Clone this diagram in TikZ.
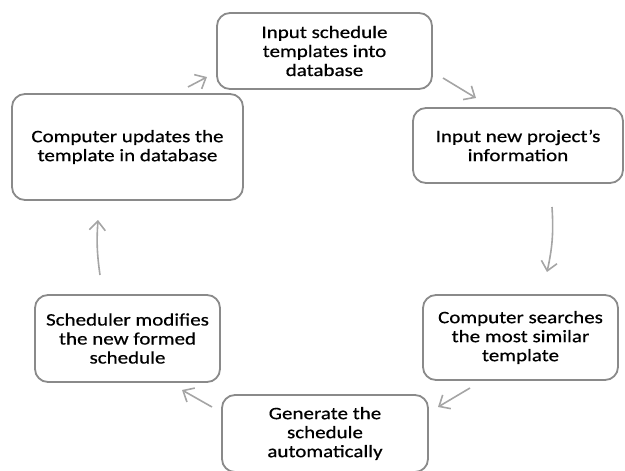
\documentclass[tikz,border=0pt]{standalone}
\usepackage{fontspec}
\setmainfont[FakeStretch=1.2, FakeBold=0.6]{Carlito}
\usepackage{xcolor}
\usetikzlibrary{arrows.meta}
\definecolor{boxgray}{RGB}{138,138,138}
\definecolor{arrowgray}{RGB}{165,165,165}
\tikzset{
    stepbox/.style={draw=boxgray, line width=1.8pt, rounded corners=13pt, align=center, inner sep=0pt, font=\fontsize{17.5}{19}\selectfont},
    flow/.style={draw=arrowgray, line width=1.6pt, -{Straight Barb[length=9pt, width=16pt, line width=1.6pt]}}
}

\begin{document}
\begin{tikzpicture}[x=1pt, y=-1pt]
    \useasboundingbox (0,0) rectangle (625,471);
    % Boxes of the cycle
    \node[stepbox, minimum width=215pt, minimum height=76pt] (input) at (324.5,51) {Input schedule\\templates into\\database};
    \node[stepbox, minimum width=210pt, minimum height=75pt] (project) at (518,145.5) {Input new project’s\\information};
    \node[stepbox, minimum width=195pt, minimum height=85pt] (search) at (520.5,337.5) {Computer searches\\the most similar\\template};
    \node[stepbox, minimum width=206pt, minimum height=77pt] (generate) at (325,433.5) {Generate the\\schedule\\automatically};
    \node[stepbox, minimum width=185pt, minimum height=87pt] (modify) at (127.5,338.5) {Scheduler modifies\\the new formed\\schedule};
    \node[stepbox, minimum width=231pt, minimum height=106pt] (update) at (127.5,147) {Computer updates the\\template in database};

    % Arrow ends in the gaps
    \coordinate (inputout) at (443,78);
    \coordinate (projectin) at (476,98);
    \coordinate (projectout) at (552,207);
    \coordinate (searchin) at (547,272);
    \coordinate (searchout) at (470,388);
    \coordinate (generatein) at (438,407);
    \coordinate (generateout) at (212,407);
    \coordinate (modifyin) at (182,390);
    \coordinate (modifyout) at (100,275);
    \coordinate (updatein) at (98,220);
    \coordinate (updateout) at (188,87);
    \coordinate (inputin) at (207,77);

    % Arrows
    \draw[flow] (inputout) -- (projectin);
    \draw[flow] (projectout) to[bend left=8] (searchin);
    \draw[flow] (searchout) -- (generatein);
    \draw[flow] (generateout) -- (modifyin);
    \draw[flow] (modifyout) to[bend left=6] (updatein);
    \draw[flow] (updateout) -- (inputin);
\end{tikzpicture}
\end{document}
